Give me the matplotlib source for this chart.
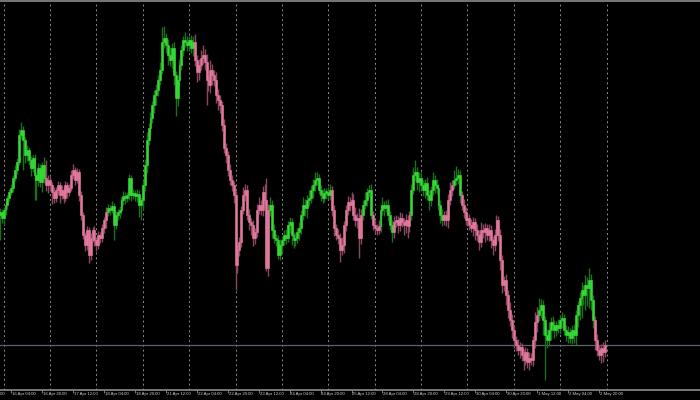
import matplotlib.pyplot as plt
from matplotlib.transforms import blended_transform_factory

# trading days shown (weekends skipped); 15 Apr only has its last two hours
prev_day = '15 Apr'
days = ['16 Apr', '17 Apr', '18 Apr', '21 Apr', '22 Apr', '23 Apr', '24 Apr',
        '25 Apr', '28 Apr', '29 Apr', '30 Apr', '1 May', '2 May']

# hourly closes
first_open = 3285
pre_close = [3288, 3282]
close_by_day = [
    [3290, 3295, 3302, 3308, 3312, 3322, 3330, 3338, 3365, 3370, 3360, 3345,
     3350, 3340, 3332, 3342, 3325, 3320, 3332, 3318, 3335, 3322, 3315, 3320],
    [3315, 3308, 3302, 3310, 3315, 3305, 3310, 3302, 3315, 3308, 3312, 3325,
     3330, 3320, 3328, 3305, 3285, 3265, 3255, 3270, 3245, 3262, 3270, 3260],
    [3255, 3265, 3262, 3272, 3280, 3288, 3292, 3290, 3294, 3275, 3285, 3288,
     3290, 3300, 3304, 3302, 3305, 3322, 3305, 3307, 3304, 3306, 3295, 3300],
    [3315, 3335, 3360, 3372, 3382, 3395, 3405, 3410, 3420, 3430, 3458, 3462,
     3455, 3445, 3440, 3452, 3425, 3402, 3420, 3435, 3450, 3460, 3458, 3455],
    [3460, 3452, 3458, 3440, 3428, 3435, 3442, 3445, 3438, 3420, 3415, 3430,
     3425, 3420, 3405, 3400, 3395, 3375, 3352, 3345, 3330, 3320, 3315, 3305],
    [3235, 3250, 3258, 3290, 3305, 3310, 3285, 3278, 3275, 3262, 3268, 3290,
     3295, 3290, 3308, 3300, 3232, 3290, 3295, 3270, 3262, 3260, 3245, 3255],
    [3260, 3265, 3262, 3275, 3278, 3265, 3260, 3262, 3268, 3272, 3285, 3295,
     3292, 3300, 3302, 3310, 3315, 3320, 3322, 3310, 3305, 3302, 3307, 3308],
    [3305, 3310, 3290, 3272, 3265, 3262, 3250, 3255, 3275, 3290, 3298, 3295,
     3300, 3285, 3280, 3282, 3262, 3285, 3295, 3300, 3308, 3310, 3285, 3275],
    [3272, 3270, 3274, 3290, 3295, 3292, 3295, 3285, 3275, 3268, 3278, 3280,
     3275, 3282, 3278, 3275, 3280, 3274, 3285, 3310, 3325, 3328, 3318, 3322],
    [3315, 3310, 3317, 3305, 3300, 3310, 3320, 3315, 3312, 3295, 3285, 3280,
     3285, 3280, 3300, 3310, 3315, 3320, 3322, 3325, 3305, 3295, 3288, 3280],
    [3282, 3275, 3272, 3278, 3270, 3265, 3258, 3270, 3268, 3272, 3265, 3270,
     3260, 3255, 3265, 3280, 3265, 3240, 3215, 3220, 3205, 3190, 3180, 3170],
    [3160, 3155, 3150, 3153, 3145, 3140, 3148, 3138, 3142, 3140, 3160, 3178,
     3185, 3190, 3195, 3180, 3165, 3160, 3170, 3178, 3175, 3170, 3175, 3172],
    [3180, 3182, 3170, 3165, 3168, 3162, 3170, 3165, 3185, 3195, 3202, 3210,
     3205, 3215, 3212, 3220, 3200, 3180, 3160, 3150, 3145, 3152, 3148, 3155],
]

# wick length above / below the body
pre_up = [4, 3]
pre_dn = [25, 5]
wick_up_by_day = [
    [3, 4, 3, 3, 4, 3, 5, 4, 6, 8, 4, 3, 5, 3, 4, 3, 4, 3, 5, 4, 3, 8, 18, 5],
    [4, 3, 5, 3, 4, 3, 5, 3, 4, 3, 4, 5, 6, 3, 4, 3, 4, 3, 3, 4, 3, 5, 3, 4],
    [3, 4, 3, 4, 3, 5, 4, 3, 5, 3, 4, 3, 4, 3, 5, 4, 3, 4, 3, 4, 3, 5, 4, 3],
    [5, 6, 8, 5, 6, 4, 5, 6, 5, 8, 15, 12, 5, 6, 8, 5, 6, 4, 5, 6, 5, 4, 8, 6],
    [4, 5, 6, 8, 5, 6, 8, 10, 6, 8, 5, 10, 6, 5, 8, 6, 5, 4, 6, 5, 4, 6, 5, 4],
    [4, 6, 5, 4, 8, 6, 5, 6, 4, 5, 4, 6, 8, 5, 6, 8, 22, 6, 8, 5, 6, 4, 5, 6],
    [4, 5, 6, 4, 5, 4, 3, 5, 4, 6, 5, 8, 6, 5, 8, 5, 6, 8, 6, 4, 5, 6, 5, 4],
    [5, 6, 4, 5, 4, 6, 5, 8, 4, 5, 6, 5, 8, 6, 8, 5, 10, 6, 5, 8, 4, 5, 6, 4],
    [5, 4, 6, 5, 8, 4, 5, 6, 4, 5, 6, 5, 4, 6, 5, 4, 6, 5, 4, 6, 8, 12, 5, 6],
    [6, 5, 4, 6, 5, 4, 8, 5, 6, 4, 5, 6, 4, 5, 6, 8, 5, 10, 12, 6, 5, 4, 6, 5],
    [5, 4, 6, 5, 4, 6, 5, 8, 6, 5, 4, 6, 5, 4, 6, 5, 4, 6, 5, 4, 6, 5, 8, 6],
    [5, 4, 6, 5, 4, 6, 5, 4, 6, 5, 4, 10, 8, 12, 6, 5, 4, 6, 8, 5, 6, 5, 4, 6],
    [5, 6, 4, 5, 6, 4, 5, 6, 5, 4, 6, 8, 5, 10, 8, 12, 6, 5, 4, 6, 5, 4, 6, 5],
]
wick_dn_by_day = [
    [8, 5, 4, 3, 3, 4, 3, 4, 3, 4, 30, 8, 6, 5, 8, 4, 25, 20, 6, 5, 10, 5, 6, 8],
    [6, 12, 5, 4, 5, 8, 4, 5, 3, 6, 4, 3, 4, 5, 3, 6, 5, 4, 6, 5, 8, 5, 4, 6],
    [6, 4, 5, 4, 5, 8, 4, 5, 3, 15, 4, 5, 6, 4, 5, 6, 4, 5, 6, 4, 5, 6, 12, 15],
    [10, 6, 8, 5, 6, 5, 8, 10, 6, 5, 4, 6, 8, 10, 6, 8, 10, 18, 8, 6, 5, 6, 5, 6],
    [6, 5, 8, 6, 10, 8, 5, 6, 8, 25, 6, 8, 10, 6, 8, 10, 8, 6, 5, 8, 6, 5, 6, 8],
    [25, 8, 6, 5, 4, 6, 5, 8, 10, 8, 6, 5, 4, 5, 6, 4, 3, 8, 6, 8, 5, 6, 4, 5],
    [8, 5, 6, 4, 8, 10, 8, 6, 5, 8, 6, 5, 8, 10, 6, 5, 8, 6, 5, 4, 6, 5, 4, 6],
    [4, 5, 6, 8, 5, 6, 12, 5, 8, 6, 5, 6, 4, 5, 6, 8, 20, 6, 5, 4, 6, 5, 4, 5],
    [6, 5, 4, 6, 5, 8, 4, 6, 5, 10, 6, 5, 8, 6, 5, 10, 8, 12, 6, 5, 4, 6, 8, 10],
    [5, 6, 8, 5, 10, 6, 5, 8, 6, 5, 8, 6, 5, 6, 8, 5, 6, 4, 5, 6, 8, 5, 6, 5],
    [6, 5, 4, 8, 10, 6, 8, 5, 6, 10, 5, 6, 8, 10, 6, 8, 6, 10, 8, 6, 10, 8, 6, 8],
    [8, 6, 5, 8, 6, 10, 5, 6, 8, 5, 6, 8, 10, 6, 8, 15, 45, 8, 6, 10, 5, 8, 6, 5],
    [6, 8, 5, 6, 8, 5, 6, 8, 10, 12, 15, 20, 10, 15, 18, 20, 10, 8, 10, 6, 5, 8, 10, 5],
]

# trend colouring: bar index where each run starts (runs alternate up/down)
trend_starts = [-2, 22, 54, 99, 138, 170, 186, 191, 195, 202, 211, 228, 233,
                237, 277, 306]
first_run_up = True

up_body, up_wick = '#36dc36', '#1c6f1c'
dn_body, dn_wick = '#e4799f', '#8a4963'

closes = pre_close + [c for d in close_by_day for c in d]
w_up = pre_up + [w for d in wick_up_by_day for w in d]
w_dn = pre_dn + [w for d in wick_dn_by_day for w in d]
idx = list(range(-len(pre_close), -len(pre_close) + len(closes)))
opens = [first_open] + closes[:-1]

up_flags = []
for i in idx:
    run = sum(1 for s in trend_starts if s <= i) - 1
    up_flags.append((run % 2 == 0) == first_run_up)

fig = plt.figure(figsize=(7, 4), dpi=100, facecolor='black')
ax = fig.add_axes([0, 0.025, 1, 0.9725])
ax.set_facecolor('black')

for i, o, c, u, d, up in zip(idx, opens, closes, w_up, w_dn, up_flags):
    hi = max(o, c) + u
    lo = min(o, c) - d
    ax.vlines(i, lo, hi, colors=up_wick if up else dn_wick, linewidth=1.0,
              zorder=2)
    h = c - o
    if abs(h) < 2:
        h = 2 if h >= 0 else -2
    col = up_body if up else dn_body
    ax.bar(i, h, bottom=o, width=1.0, color=col, edgecolor=col,
           linewidth=0.4, zorder=3)

n_days = len(days)
for k in range(n_days + 1):
    ax.axvline(k * 24, color='#8c8c8c', linestyle=(0, (2, 3)), linewidth=0.7,
               zorder=1)

ax.axhline(closes[-1], color='#5d6370', linewidth=0.9, zorder=1)

for s in ['left', 'right']:
    ax.spines[s].set_visible(False)
for s in ['top', 'bottom']:
    ax.spines[s].set_color('#8c8c8c')
    ax.spines[s].set_linewidth(1.2)
ax.set_yticks([])

label_pos = list(range(-12, n_days * 24, 16))
ax.set_xticks(label_pos)
ax.set_xticklabels([])
ax.tick_params(axis='x', colors='#8c8c8c', length=2.5, width=0.6)

# limits after the ticks, so the ticks do not widen the view
ax.set_xlim(-1.86, 360.3)
ax.set_ylim(3110, 3499)

trans = blended_transform_factory(ax.transData, ax.transAxes)
for p in label_pos:
    day = prev_day if p < 0 else days[p // 24]
    hour = p % 24
    ax.text(p + 0.4, -0.006, f'{day} {hour:02d}:00', transform=trans,
            ha='left', va='top', fontsize=3.1, family='Liberation Sans',
            color='#d0d0d0')

fig.savefig('out.png', dpi=100, facecolor='black')
